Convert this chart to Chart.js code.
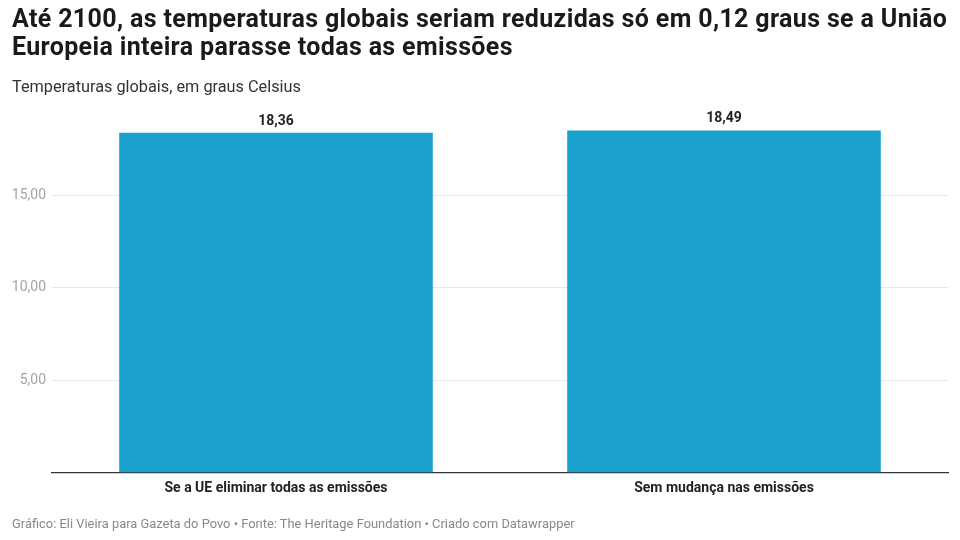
<!DOCTYPE html>
<html>
<head>
<meta charset="utf-8">
<script src="https://cdn.jsdelivr.net/npm/chart.js@4/dist/chart.umd.min.js"></script>
<style>
    html, body { margin: 0; padding: 0; background: #fff; }
    body { width: 960px; height: 540px; position: relative; overflow: hidden; font-family: Roboto, sans-serif; }
    #title { position: absolute; left: 12px; top: 5px; width: 945px; font-size: 25px; letter-spacing: 0.35px; font-weight: 700; line-height: 28px; color: #1a1a1a; }
    #subtitle { position: absolute; left: 12px; top: 77px; font-size: 16.3px; color: #333; }
    #footer { position: absolute; left: 12px; top: 516px; font-size: 12.9px; color: #888; }
    #wrap { position: absolute; left: 0; top: 0; width: 960px; height: 540px; }
</style>
</head>
<body>
<div id="wrap"><canvas id="chart"></canvas></div>
<div id="title">Até 2100, as temperaturas globais seriam reduzidas só em 0,12 graus se a União Europeia inteira parasse todas as emissões</div>
<div id="subtitle">Temperaturas globais, em graus Celsius</div>
<div id="footer">Gráfico: Eli Vieira para Gazeta do Povo • Fonte: The Heritage Foundation • Criado com Datawrapper</div>
<script>
// Data
const categories = ['Se a UE eliminar todas as emissões', 'Sem mudança nas emissões'];
const temperatures = [18.36, 18.49];
const yTicks = [5, 10, 15];

const fmt = v => v.toFixed(2).replace('.', ',');

// Value labels on top of bars
const valueLabels = {
    id: 'valueLabels',
    afterDatasetsDraw(chart) {
        const { ctx } = chart;
        const meta = chart.getDatasetMeta(0);
        ctx.save();
        ctx.fillStyle = '#222';
        ctx.font = 'bold 14px Roboto, sans-serif';
        ctx.textAlign = 'center';
        ctx.textBaseline = 'alphabetic';
        temperatures.forEach((v, i) => {
            const bar = meta.data[i];
            ctx.fillText(fmt(v), bar.x, bar.y - 8);
        });
        ctx.restore();
    }
};

new Chart(document.getElementById('chart'), {
    type: 'bar',
    data: {
        labels: categories,
        datasets: [{
            data: temperatures,
            backgroundColor: '#1aa1cd',
            borderWidth: 0,
            barPercentage: 0.7,
            categoryPercentage: 1.0
        }]
    },
    options: {
        responsive: true,
        maintainAspectRatio: false,
        animation: false,
        layout: { padding: { left: 0, right: 12, top: 102.5, bottom: 37.5 } },
        scales: {
            x: {
                grid: { display: false, drawTicks: false },
                border: { color: '#333', width: 1.3 },
                ticks: {
                    color: '#222',
                    font: { family: 'Roboto, sans-serif', size: 14, weight: 'bold' },
                    padding: 8,
                    maxRotation: 0
                },
                afterFit(scale) { scale.height = 30; }
            },
            y: {
                min: 0,
                max: 20,
                afterBuildTicks(scale) { scale.ticks = yTicks.map(v => ({ value: v })); },
                grid: { color: '#e5e5e5', drawTicks: false },
                border: { display: false },
                ticks: {
                    color: '#a3a3a3',
                    font: { family: 'Roboto, sans-serif', size: 14 },
                    padding: 6,
                    callback: v => fmt(v)
                },
                afterFit(scale) { scale.width = 52; }
            }
        },
        plugins: {
            legend: { display: false },
            tooltip: { enabled: false }
        }
    },
    plugins: [valueLabels]
});
</script>
</body>
</html>
